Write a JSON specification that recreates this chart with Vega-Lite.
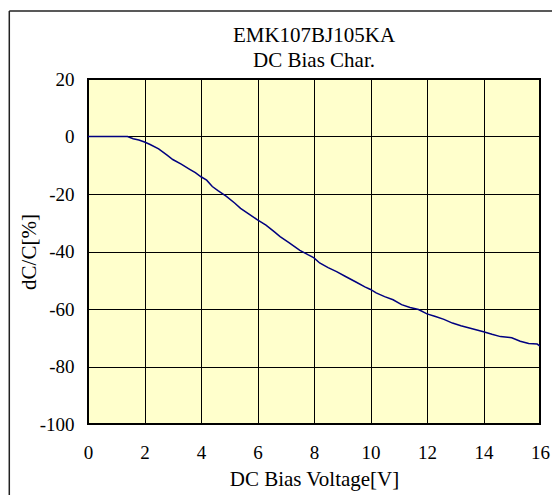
{
  "$schema": "https://vega.github.io/schema/vega-lite/v6.json",
  "width": 452,
  "height": 345,
  "autosize": {"type": "none"},
  "padding": {"left": 88, "top": 79, "right": 12, "bottom": 71},
  "background": "white",
  "config": {
    "view": {"fill": "#FFFFCC", "stroke": "#000000", "strokeWidth": 2},
    "font": "Times New Roman, Liberation Serif, serif",
    "axis": {"labelFont": "Times New Roman, Liberation Serif, serif", "titleFont": "Times New Roman, Liberation Serif, serif"},
    "title": {"font": "Times New Roman, Liberation Serif, serif"}
  },
  "title": {
    "text": ["EMK107BJ105KA", "DC Bias Char."],
    "fontSize": 21,
    "lineHeight": 25,
    "font": "Times New Roman, Liberation Serif, serif",
    "fontWeight": "normal",
    "color": "#000000",
    "frame": "group",
    "anchor": "middle",
    "offset": -61
  },
  "datasets": {
    "curve": [
      {"v": 0, "c": 0}, {"v": 1.0, "c": 0}, {"v": 1.4, "c": 0}, {"v": 1.6, "c": -0.8},
      {"v": 1.8, "c": -1.2}, {"v": 2.0, "c": -1.9}, {"v": 2.2, "c": -2.8}, {"v": 2.5, "c": -4.3},
      {"v": 2.8, "c": -6.5}, {"v": 3.0, "c": -8.0}, {"v": 3.3, "c": -9.6}, {"v": 3.6, "c": -11.4},
      {"v": 3.8, "c": -12.6}, {"v": 4.0, "c": -14.0}, {"v": 4.2, "c": -15.2}, {"v": 4.4, "c": -17.4},
      {"v": 4.6, "c": -18.8}, {"v": 4.9, "c": -20.8}, {"v": 5.2, "c": -23.2}, {"v": 5.4, "c": -25.0},
      {"v": 5.7, "c": -27.0}, {"v": 6.0, "c": -29.0}, {"v": 6.3, "c": -30.8}, {"v": 6.6, "c": -33.2},
      {"v": 6.8, "c": -34.8}, {"v": 7.1, "c": -36.8}, {"v": 7.5, "c": -39.6}, {"v": 7.8, "c": -41.2},
      {"v": 8.0, "c": -42.2}, {"v": 8.2, "c": -44.0}, {"v": 8.5, "c": -45.6}, {"v": 8.8, "c": -47.0},
      {"v": 9.1, "c": -48.6}, {"v": 9.5, "c": -50.7}, {"v": 9.8, "c": -52.3}, {"v": 10.0, "c": -53.2},
      {"v": 10.2, "c": -54.4}, {"v": 10.5, "c": -55.7}, {"v": 10.8, "c": -56.8}, {"v": 11.1, "c": -58.5},
      {"v": 11.4, "c": -59.5}, {"v": 11.7, "c": -60.2}, {"v": 12.0, "c": -61.7}, {"v": 12.3, "c": -62.6},
      {"v": 12.6, "c": -63.6}, {"v": 12.9, "c": -64.9}, {"v": 13.2, "c": -65.8}, {"v": 13.5, "c": -66.6},
      {"v": 13.8, "c": -67.4}, {"v": 14.0, "c": -67.9}, {"v": 14.3, "c": -68.8}, {"v": 14.6, "c": -69.6},
      {"v": 15.0, "c": -70.0}, {"v": 15.3, "c": -71.2}, {"v": 15.6, "c": -72.0}, {"v": 15.9, "c": -72.2},
      {"v": 16.0, "c": -72.9}
    ]
  },
  "layer": [
    {
      "data": {"name": "curve"},
      "mark": {"type": "line", "color": "#000080", "strokeWidth": 1.5, "clip": true},
      "encoding": {
        "x": {
          "field": "v",
          "type": "quantitative",
          "scale": {"domain": [0, 16], "nice": false, "zero": false},
          "axis": {
            "title": "DC Bias Voltage[V]",
            "values": [0, 2, 4, 6, 8, 10, 12, 14, 16],
            "labelExpr": "'' + datum.value",
            "grid": true,
            "gridColor": "#000000",
            "gridOpacity": 1,
            "gridWidth": 1,
            "domain": false,
            "ticks": false,
            "labelPadding": 19,
            "labelFontSize": 19,
            "labelColor": "#000000",
            "labelFlush": false,
            "labelOverlap": false,
            "titleFontSize": 21,
            "titleFontWeight": "normal",
            "titleColor": "#000000",
            "titlePadding": 6
          }
        },
        "y": {
          "field": "c",
          "type": "quantitative",
          "scale": {"domain": [-100, 20], "nice": false, "zero": false},
          "axis": {
            "title": "dC/C[%]",
            "values": [-100, -80, -60, -40, -20, 0, 20],
            "labelExpr": "'' + datum.value",
            "grid": true,
            "gridColor": "#000000",
            "gridOpacity": 1,
            "gridWidth": 1,
            "domain": false,
            "ticks": false,
            "labelPadding": 14,
            "labelFontSize": 19,
            "labelColor": "#000000",
            "labelFlush": false,
            "labelOverlap": false,
            "titleFontSize": 21,
            "titleFontWeight": "normal",
            "titleColor": "#000000",
            "titlePadding": 0
          }
        }
      }
    },
    {
      "data": {"values": [{}]},
      "mark": {"type": "rule", "color": "#222222", "strokeWidth": 1.5, "clip": false},
      "encoding": {
        "x": {"datum": -2.786, "type": "quantitative"},
        "y": {"datum": 43.65, "type": "quantitative"},
        "y2": {"datum": -140}
      }
    },
    {
      "data": {"values": [{}]},
      "mark": {"type": "rule", "color": "#222222", "strokeWidth": 1.5, "clip": false},
      "encoding": {
        "x": {"datum": -2.786, "type": "quantitative"},
        "x2": {"datum": 20},
        "y": {"datum": 43.65, "type": "quantitative"}
      }
    }
  ]
}
